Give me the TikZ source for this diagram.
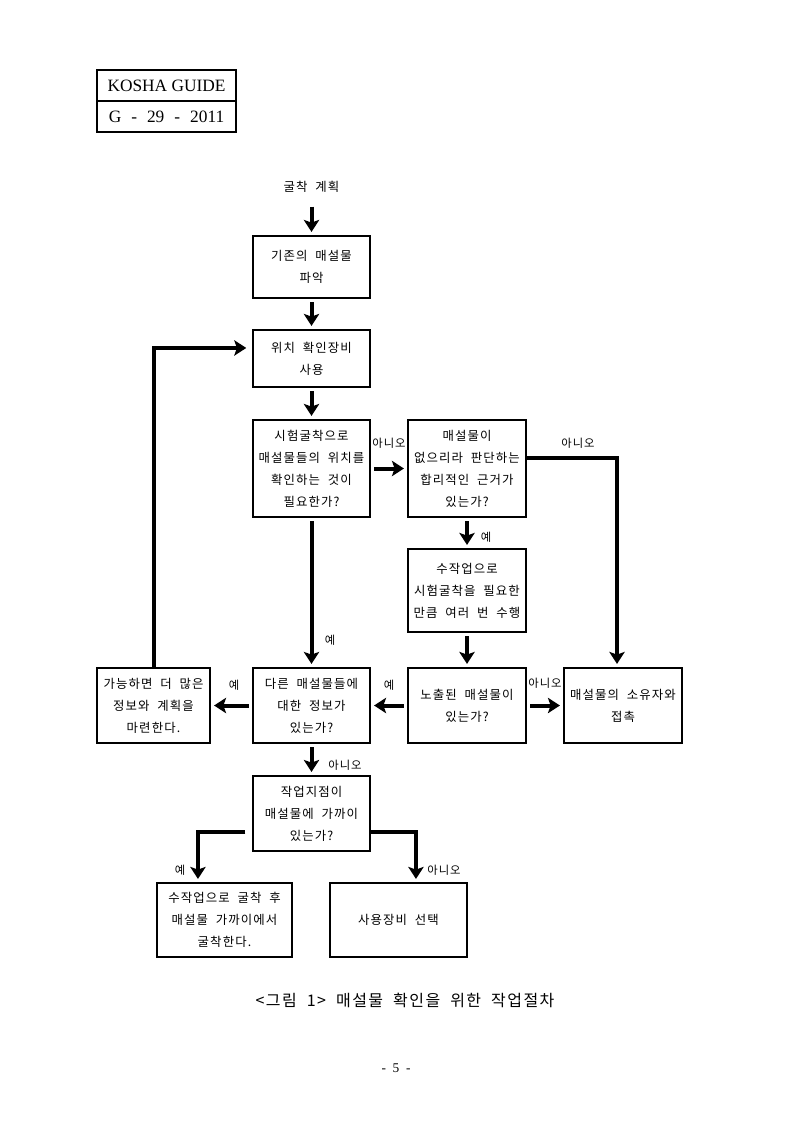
\documentclass[tikz,border=0pt]{standalone}
\usepackage{fontspec}
\setmainfont{Liberation Serif}
\newfontfamily\kr[LetterSpace=9,WordSpace=2]{Noto Sans CJK KR}
\usetikzlibrary{arrows.meta,positioning,calc}

\begin{document}
\begin{tikzpicture}[
  x=0.75pt, y=-0.75pt,
  box/.style={rectangle, draw, line width=1.1pt, minimum width=87.75pt,
              align=center, inner sep=0pt, font=\kr\fontsize{9.3}{16.5}\selectfont},
  flow/.style={-{Stealth[length=9pt,width=11.5pt,inset=2pt]}, line width=3pt,
               shorten >=2.5pt, shorten <=2.5pt},
  lbl/.style={font=\kr\fontsize{8.5}{10}\selectfont, inner sep=0pt}
]
  \useasboundingbox (0,0) rectangle (794,1123);

  %--- HEADER ---
  \draw[line width=1.1pt] (97,70) rectangle (236,132);
  \draw[line width=1.1pt] (97,101) -- (236,101);
  \node[font=\fontsize{13}{15}\selectfont] (guide) at (166.5,86) {KOSHA GUIDE};
  \node[font=\fontsize{13}{15}\selectfont] (gno) at (166.5,117)
        {G\hspace{7.5pt}-\hspace{7.5pt}29\hspace{7.5pt}-\hspace{7.5pt}2011};

  %--- MAIN COLUMN ---
  \node[font=\kr\fontsize{9.3}{12}\selectfont] (plan) at (311.5,187) {굴착 계획};
  \node[box, minimum height=46.5pt] (exist)  at (311.5,267)   {기존의 매설물\\파악};
  \node[box, minimum height=42.75pt] (locate) at (311.5,358.5) {위치 확인장비\\사용};
  \node[box, minimum height=72.75pt] (trial)  at (311.5,468.5)
        {시험굴착으로\\매설물들의 위치를\\확인하는 것이\\필요한가?};

  %--- RIGHT BRANCH ---
  \node[box, minimum width=88.5pt, minimum height=72.75pt] (judge) at (467,468.5)
        {매설물이\\없으리라 판단하는\\합리적인 근거가\\있는가?};
  \node[box, minimum width=88.5pt, minimum height=62.25pt] (handtest) at (467,590.5)
        {수작업으로\\시험굴착을 필요한\\만큼 여러 번 수행};

  %--- MIDDLE ROW ---
  \node[box, minimum width=84.75pt, minimum height=56.25pt] (moreinfo) at (153.5,705.5)
        {가능하면 더 많은\\정보와 계획을\\마련한다.};
  \node[box, minimum height=56.25pt] (other) at (311.5,705.5)
        {다른 매설물들에\\대한 정보가\\있는가?};
  \node[box, minimum width=88.5pt, minimum height=56.25pt] (exposed) at (467,705.5)
        {노출된 매설물이\\있는가?};
  \node[box, minimum width=88.5pt, minimum height=56.25pt] (owner) at (623,705.5)
        {매설물의 소유자와\\접촉};

  %--- BOTTOM ---
  \node[box, minimum height=56.25pt] (near) at (311.5,813.5)
        {작업지점이\\매설물에 가까이\\있는가?};
  \node[box, minimum width=101.25pt, minimum height=55.5pt] (handdig) at (224.5,920)
        {수작업으로 굴착 후\\매설물 가까이에서\\굴착한다.};
  \node[box, minimum width=102.75pt, minimum height=55.5pt] (equip) at (398.5,920)
        {사용장비 선택};

  %--- Connectors ---
  \draw[flow, shorten <=7pt] (plan) -- (exist);
  \draw[flow] (exist) -- (locate);
  \draw[flow] (locate) -- (trial);
  \draw[flow] (trial) -- (judge);
  \draw[flow, shorten <=0pt] ([yshift=7.9pt]judge.east) -| ([xshift=-4.5pt]owner.north);
  \draw[flow] (judge) -- (handtest);
  \draw[flow] (handtest) -- (exposed);
  \draw[flow] (trial) -- (other);
  \draw[flow] (exposed) -- (owner);
  \draw[flow] (exposed) -- (other);
  \draw[flow] (other) -- (moreinfo);
  \draw[flow, shorten <=0pt, shorten >=4.5pt] (moreinfo.north) |- ([yshift=7.9pt]locate.west);
  \draw[flow] (other) -- (near);
  \draw[flow, shorten <=0pt] ([xshift=-5.25pt,yshift=-13.9pt]near.west)
        -| ([xshift=-19.9pt]handdig.north);
  \draw[flow, shorten <=0pt] ([yshift=-13.9pt]near.east)
        -| ([xshift=13.1pt]equip.north);

  %--- Labels ---
  \node[lbl] (ltrial)   at (389,443) {아니오};
  \node[lbl] (ljudge)   at (578,443) {아니오};
  \node[lbl] (lhand)    at (486,537) {예};
  \node[lbl] (lother)   at (330,640) {예};
  \node[lbl] (lmore)    at (234,685) {예};
  \node[lbl] (lexp)     at (389,685) {예};
  \node[lbl] (lowner)   at (545,683) {아니오};
  \node[lbl] (lnear)    at (345,765) {아니오};
  \node[lbl] (ldig)     at (180,870) {예};
  \node[lbl] (lequip)   at (444,870) {아니오};

  %--- Caption ---
  \node[font=\kr\fontsize{12}{14}\selectfont] (caption) at (405,1000)
        {<그림 1> 매설물 확인을 위한 작업절차};
  \node[font=\fontsize{10}{12}\selectfont] (page) at (396,1068)
        {-\enspace5\enspace-};

\end{tikzpicture}
\end{document}
